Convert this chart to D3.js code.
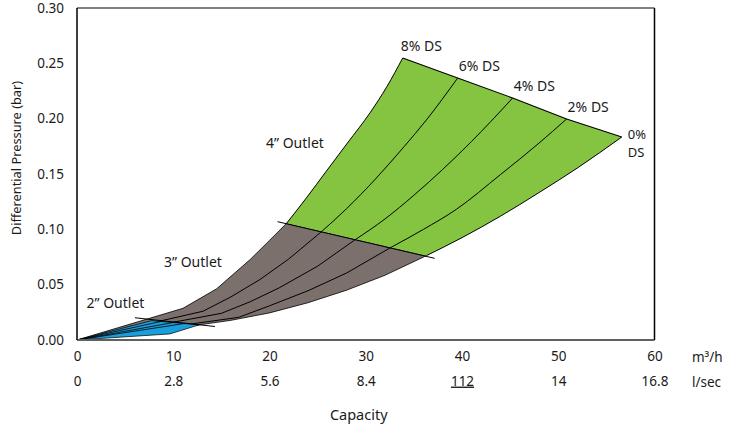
<!DOCTYPE html>
<html><head><meta charset="utf-8">
<script src="https://cdn.jsdelivr.net/npm/d3@7"></script>
<style>body{margin:0;background:#fff}svg{display:block}text{font-family:"Noto Sans",sans-serif;fill:#1a1a1a}</style>
</head><body>
<script>
// ---- data ----
const yTicks = [0, 0.05, 0.10, 0.15, 0.20, 0.25, 0.30];
const xTicks = [0, 10, 20, 30, 40, 50, 60];
const lsecLabels = ["0", "2.8", "5.6", "8.4", "112", "14", "16.8"];
const dsNames = ["8% DS", "6% DS", "4% DS", "2% DS"];

// 2" outlet curves (capacity m3/h, pressure bar)
const o2_ds8 = [[0,0],[7.75,0.0175]];
const o2_ds6 = [[0,0],[9.0,0.0173]];
const o2_ds4 = [[0,0],[10.2,0.0161]];
const o2_ds2 = [[0,0],[11.3,0.0151]];
const o2_ds0 = [[0,0],[9.65,0.0055],[12.7,0.0137]];
const o2_limit = [[6.02,0.0201],[14.33,0.0122]];

// 3" outlet curves
const o3_ds8 = [[0,0],[11.0,0.0286],[14.5,0.0462],[18.0,0.0728],[20.0,0.0900],[21.77,0.1054]];
const o3_ds6 = [[0,0],[13.1,0.0260],[16,0.0390],[19,0.0546],[22,0.0732],[25.4,0.0979]];
const o3_ds4 = [[0,0],[15.0,0.0241],[18,0.0346],[21,0.0471],[25,0.0667],[28.86,0.0904]];
const o3_ds2 = [[0,0],[16.8,0.0205],[20,0.0309],[24,0.0445],[28,0.0605],[32.56,0.0834]];
const o3_ds0 = [[0,0],[12.7,0.0137],[16,0.0178],[20,0.0245],[24,0.0337],[28,0.0450],[32,0.0585],[36.3,0.0762]];
const o3_limit = [[20.84,0.1069],[37.16,0.0738]];

// 4" outlet curves
const o4_ds8 = [[21.77,0.1054],[23.8,0.1280],[25.9,0.1525],[28.1,0.1780],[30.5,0.2060],[32.2,0.2290],[33.84,0.2548]];
const o4_ds6 = [[25.4,0.0979],[28,0.1186],[31,0.1454],[34,0.1749],[36.3,0.1988],[39.55,0.2367]];
const o4_ds4 = [[28.86,0.0904],[32,0.1094],[35,0.1308],[38,0.1542],[41,0.1795],[43,0.1975],[45.26,0.2187]];
const o4_ds2 = [[32.56,0.0834],[36,0.1000],[39.4,0.1180],[44,0.1495],[48,0.1779],[50.87,0.1997]];
const o4_ds0 = [[36.3,0.0762],[40,0.0925],[44,0.1119],[48,0.1332],[52,0.1555],[56.6,0.1834]];
const o4_limit = [[33.84,0.2548],[39.55,0.2367],[45.26,0.2187],[50.87,0.1997],[56.6,0.1834]];

// ---- chart ----
const W = 730, H = 425;
const svg = d3.select("body").append("svg").attr("width", W).attr("height", H);
const x = d3.scaleLinear().domain([0, 60]).range([77, 654.5]);
const y = d3.scaleLinear().domain([0, 0.30]).range([340, 8]);

const lin = d3.line().x(d => x(d[0])).y(d => y(d[1]));
const smooth = d3.line().x(d => x(d[0])).y(d => y(d[1])).curve(d3.curveMonotoneX);

const GRAY = "#7b706c", GREEN = "#85c441", BLUE = "#1a9fdb";

// 3" region
svg.append("path").attr("d", lin(o3_ds8.concat(o3_ds0.slice().reverse())) + "Z")
  .attr("fill", GRAY).attr("stroke", "#000").attr("stroke-width", 0.8);
[o3_ds6, o3_ds4, o3_ds2].forEach(c => svg.append("path").attr("d", lin(c))
  .attr("fill", "none").attr("stroke", "#000").attr("stroke-width", 1));

// 4" region
svg.append("path").attr("d", smooth(o4_ds8) + lin(o4_limit).replace("M", "L") + smooth(o4_ds0.slice().reverse()).replace("M", "L") + "Z")
  .attr("fill", GREEN).attr("stroke", "none");
[o4_ds8, o4_ds6, o4_ds4, o4_ds2, o4_ds0].forEach(c => svg.append("path").attr("d", smooth(c))
  .attr("fill", "none").attr("stroke", "#000").attr("stroke-width", 1));
svg.append("path").attr("d", lin(o4_limit)).attr("fill", "none").attr("stroke", "#000").attr("stroke-width", 1.1);

// 2" region
svg.append("path").attr("d", lin(o2_ds8.concat(o2_ds0.slice().reverse())) + "Z")
  .attr("fill", BLUE).attr("stroke", "#000").attr("stroke-width", 0.7);
[o2_ds6, o2_ds4, o2_ds2].forEach(c => svg.append("path").attr("d", lin(c))
  .attr("fill", "none").attr("stroke", "#000").attr("stroke-width", 0.8));

// outlet limit lines
[o2_limit, o3_limit].forEach(c => svg.append("path").attr("d", lin(c))
  .attr("fill", "none").attr("stroke", "#000").attr("stroke-width", 1));

// frame
svg.append("line").attr("x1", x(0)).attr("x2", x(60)).attr("y1", y(0.30)).attr("y2", y(0.30)).attr("stroke", "#808080").attr("stroke-width", 2);
svg.append("line").attr("x1", x(0)).attr("x2", x(60)).attr("y1", y(0)).attr("y2", y(0)).attr("stroke", "#606060").attr("stroke-width", 2);
svg.append("line").attr("x1", x(0)).attr("x2", x(0)).attr("y1", y(0.30)).attr("y2", y(0)).attr("stroke", "#000").attr("stroke-width", 1.5);
svg.append("line").attr("x1", x(60)).attr("x2", x(60)).attr("y1", y(0.30)).attr("y2", y(0)).attr("stroke", "#000").attr("stroke-width", 1.5);

// axes
const yAxis = svg.append("g").attr("transform", `translate(${x(0)},0)`)
  .call(d3.axisLeft(y).tickValues(yTicks).tickFormat(d3.format(".2f")).tickSize(0).tickPadding(13));
yAxis.select(".domain").remove();
yAxis.selectAll("text").style("font-size", "13.5px").style("font-family", "Noto Sans");

const xAxis1 = svg.append("g").attr("transform", `translate(0,${y(0)})`)
  .call(d3.axisBottom(x).tickValues(xTicks).tickFormat(d3.format("d")).tickSize(0).tickPadding(11));
xAxis1.select(".domain").remove();
xAxis1.selectAll("text").style("font-size", "13.5px").style("font-family", "Noto Sans");

const xAxis2 = svg.append("g").attr("transform", `translate(0,${y(0) + 25})`)
  .call(d3.axisBottom(x).tickValues(xTicks).tickFormat((d, i) => lsecLabels[i]).tickSize(0).tickPadding(11));
xAxis2.select(".domain").remove();
xAxis2.selectAll("text").style("font-size", "13.5px").style("font-family", "Noto Sans")
  .style("text-decoration", (d, i) => lsecLabels[i] === "112" ? "underline" : null);

svg.append("text").attr("x", 692).attr("y", 361.5).style("font-size", "13.5px").text("m³/h");
svg.append("text").attr("x", 692).attr("y", 386.5).style("font-size", "13.5px").text("l/sec");

svg.append("text").attr("x", x(30) - 7).attr("y", 419.5).attr("text-anchor", "middle").style("font-size", "14.5px").text("Capacity");
svg.append("text").attr("transform", "translate(21,158) rotate(-90)").attr("text-anchor", "middle")
  .style("font-size", "12.8px").text("Differential Pressure (bar)");

// outlet labels
svg.append("text").attr("x", 86.5).attr("y", 307.5).style("font-size", "14px").text("2” Outlet");
svg.append("text").attr("x", 164).attr("y", 266.5).style("font-size", "14px").text("3” Outlet");
svg.append("text").attr("x", 266).attr("y", 147.5).style("font-size", "14px").text("4” Outlet");

// DS labels at the ends of the 4" curves
o4_limit.slice(0, 4).forEach((p, i) => {
  svg.append("text").attr("x", x(p[0]) + (i === 0 ? -2 : 1)).attr("y", y(p[1]) - 7)
    .style("font-size", "14px").text(dsNames[i]);
});
const last = o4_limit[4];
svg.append("text").attr("x", x(last[0]) + 6).attr("y", y(last[1]) + 1.5).style("font-size", "13px").text("0%");
svg.append("text").attr("x", x(last[0]) + 6).attr("y", y(last[1]) + 19.5).style("font-size", "13px").text("DS");
</script>
</body></html>
